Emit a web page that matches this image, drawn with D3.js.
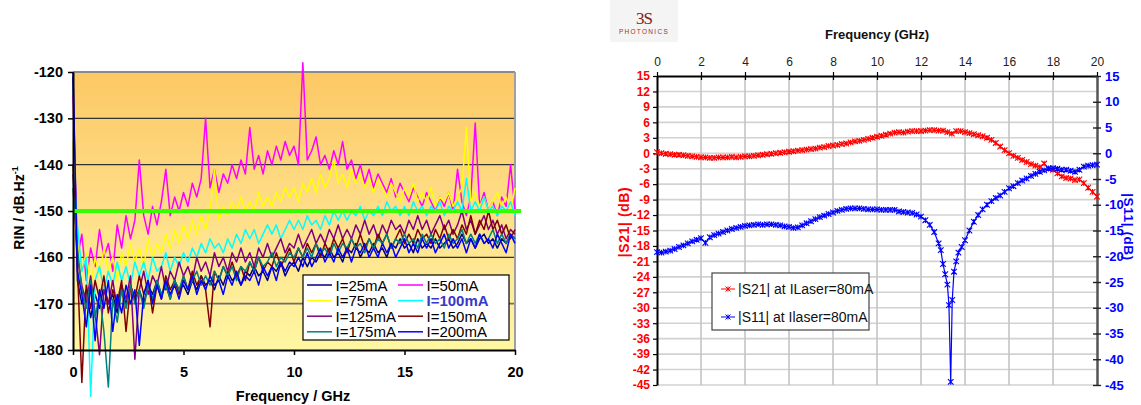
<!DOCTYPE html>
<html><head><meta charset="utf-8">
<script src="https://cdn.jsdelivr.net/npm/d3@7"></script>
<style>body{margin:0;background:#fff}svg{display:block;font-family:"Liberation Sans",Arial,sans-serif}</style>
</head><body><svg id="c" width="1141" height="405"></svg>
<script>
// ---------------- LEFT CHART DATA (RIN, dB/Hz, sampled every 0.2 GHz from 0 to 20 GHz) ----------------
const rinLabels = ["I=25mA","I=50mA","I=75mA","I=100mA","I=125mA","I=150mA","I=175mA","I=200mA"];
const rinXTicks = [0,5,10,15,20];
const rinYTicks = [-180,-170,-160,-150,-140,-130,-120];
const rinRef = -150;
const rin25 = [-121,
-165,-170,-167,-173,-168,-171,-166,-170,-168,-172,
-167,-170,-166,-169,-167,-170,-166,-168,-165,-168,
-166,-169,-165,-167,-166,-168,-165,-167,-164,-166,
-165,-167,-164,-166,-163,-165,-164,-166,-163,-164,
-162,-164,-163,-165,-162,-163,-161,-164,-162,-161,
-163,-160,-162,-160,-161,-159,-160,-158,-160,-159,
-161,-158,-159,-157,-160,-158,-159,-157,-159,-158,
-160,-157,-158,-156,-158,-157,-159,-156,-158,-157,
-158,-156,-158,-157,-156,-158,-157,-155,-157,-156,
-158,-156,-155,-157,-156,-158,-156,-157,-155,-156];
const rin50 = [-125,
-160,-155,-165,-158,-162,-154,-160,-157,-163,-153,
-158,-151,-156,-152,-139,-151,-155,-149,-153,-148,
-141,-151,-147,-150,-146,-149,-144,-147,-143,-130,
-145,-141,-146,-142,-144,-140,-143,-139,-142,-132,
-141,-138,-142,-137,-140,-136,-139,-135,-138,-136,
-140,-118,-139,-137,-134,-140,-138,-141,-137,-140,
-135,-141,-139,-143,-140,-144,-141,-145,-142,-144,
-146,-143,-147,-144,-146,-148,-145,-147,-149,-146,
-148,-150,-147,-149,-146,-150,-141,-148,-151,-147,
-131,-149,-146,-150,-148,-151,-147,-149,-140,-150];
const rin75 = [-135,
-157,-163,-159,-166,-160,-164,-158,-163,-160,-165,
-159,-162,-157,-161,-158,-162,-156,-160,-157,-159,
-155,-158,-154,-157,-153,-156,-152,-155,-151,-154,
-150,-141,-152,-149,-151,-148,-150,-147,-150,-148,
-150,-146,-149,-147,-149,-146,-148,-145,-147,-145,
-148,-144,-146,-143,-146,-142,-145,-143,-139,-144,
-142,-145,-141,-144,-142,-145,-143,-146,-143,-145,
-147,-144,-146,-148,-145,-147,-144,-148,-146,-148,
-145,-149,-147,-148,-146,-149,-147,-145,-132,-148,
-146,-149,-147,-150,-148,-146,-149,-147,-150,-145];
const rin100 = [-140,
-153,-163,-160,-190,-165,-162,-167,-163,-166,-161,
-165,-162,-166,-161,-164,-161,-165,-160,-163,-162,
-159,-163,-160,-162,-159,-161,-158,-160,-157,-159,
-156,-158,-157,-159,-156,-158,-155,-157,-154,-156,
-154,-157,-155,-153,-155,-153,-156,-154,-152,-154,
-152,-154,-151,-153,-152,-154,-151,-153,-150,-152,
-150,-152,-150,-151,-149,-152,-150,-151,-149,-151,
-148,-150,-149,-151,-149,-151,-148,-150,-149,-151,
-149,-150,-148,-151,-149,-150,-148,-150,-143,-150,
-148,-150,-147,-150,-149,-151,-149,-150,-148,-151];
const rin125 = [-142,
-160,-166,-170,-164,-172,-181,-167,-170,-165,-171,
-166,-169,-164,-182,-167,-163,-168,-164,-166,-162,
-167,-163,-165,-161,-164,-162,-165,-160,-163,-161,
-164,-159,-162,-160,-163,-159,-161,-158,-161,-159,
-162,-158,-160,-157,-160,-158,-156,-159,-157,-158,
-155,-158,-156,-154,-157,-155,-157,-154,-156,-153,
-156,-154,-156,-153,-155,-152,-155,-153,-156,-153,
-155,-152,-154,-153,-155,-152,-154,-151,-154,-152,
-155,-153,-151,-154,-152,-155,-153,-150,-154,-152,
-155,-153,-151,-154,-152,-155,-153,-156,-154,-155];
const rin150 = [-140,
-162,-187,-166,-171,-165,-169,-164,-172,-167,-170,
-165,-176,-166,-169,-164,-168,-165,-172,-166,-169,
-164,-167,-165,-168,-164,-167,-163,-166,-164,-167,
-175,-163,-165,-162,-164,-161,-164,-162,-165,-161,
-163,-160,-163,-161,-162,-159,-162,-160,-158,-161,
-158,-160,-157,-159,-157,-160,-157,-159,-156,-158,
-156,-159,-156,-158,-155,-158,-156,-158,-155,-157,
-155,-158,-156,-154,-157,-155,-157,-154,-156,-155,
-157,-154,-156,-153,-156,-154,-156,-153,-155,-151,
-155,-152,-154,-150,-154,-152,-155,-153,-156,-154];
const rin175 = [-145,
-158,-167,-171,-165,-173,-168,-176,-188,-169,-174,
-167,-171,-166,-170,-167,-171,-166,-169,-165,-168,
-166,-169,-165,-167,-164,-167,-165,-163,-166,-164,
-166,-163,-165,-162,-164,-162,-165,-162,-163,-161,
-163,-160,-162,-161,-159,-162,-160,-161,-159,-160,
-158,-160,-158,-160,-157,-159,-158,-160,-157,-159,
-157,-158,-156,-158,-157,-159,-156,-158,-156,-157,
-155,-158,-156,-157,-155,-157,-156,-158,-155,-157,
-155,-157,-156,-158,-155,-157,-156,-154,-157,-155,
-157,-155,-157,-156,-154,-157,-155,-157,-155,-156];
const rin200 = [-120,
-163,-168,-175,-166,-178,-167,-171,-165,-176,-168,
-172,-166,-170,-167,-179,-168,-165,-170,-166,-169,
-165,-168,-166,-169,-165,-167,-164,-168,-165,-167,
-164,-166,-165,-168,-164,-166,-163,-166,-164,-165,
-163,-166,-162,-164,-162,-165,-161,-163,-161,-162,
-160,-162,-159,-162,-160,-158,-161,-159,-161,-158,
-160,-158,-161,-158,-159,-157,-160,-158,-160,-157,
-159,-157,-160,-158,-156,-159,-157,-159,-156,-158,
-156,-159,-157,-155,-158,-156,-158,-156,-159,-156,
-158,-155,-157,-156,-158,-155,-157,-159,-155,-157];
const rinSeries = [rin25, rin50, rin75, rin100, rin125, rin150, rin175, rin200];

// ---------------- RIGHT CHART DATA (S-parameters) ----------------
const sXTicks = [0,2,4,6,8,10,12,14,16,18,20];
const s21Ticks = [15,12,9,6,3,0,-3,-6,-9,-12,-15,-18,-21,-24,-27,-30,-33,-36,-39,-42,-45];
const s11Ticks = [15,10,5,0,-5,-10,-15,-20,-25,-30,-35,-40,-45];
const s21Db = [0.2,
0.0,-0.1,-0.2,-0.3,-0.3,-0.4,-0.5,-0.6,-0.7,-0.8,
-0.8,-0.9,-0.9,-0.8,-0.8,-0.8,-0.7,-0.8,-0.7,-0.6,
-0.6,-0.5,-0.4,-0.3,-0.2,-0.1,0.0,0.1,0.2,0.3,
0.4,0.5,0.6,0.7,0.8,0.9,1.1,1.2,1.4,1.5,
1.6,1.8,1.9,2.1,2.3,2.4,2.6,2.8,3.0,3.2,
3.4,3.6,3.8,4.0,4.1,4.0,4.2,4.3,4.3,4.3,
4.4,4.5,4.5,4.4,4.4,4.1,3.8,4.3,4.3,4.1,
3.9,3.7,3.5,3.3,3.0,2.6,2.0,1.3,0.6,0.0,
-0.5,-0.9,-1.3,-1.7,-2.1,-2.4,-2.7,-2.0,-2.9,-3.2,
-3.9,-4.5,-4.8,-4.9,-5.2,-5.1,-5.8,-6.7,-7.5,-8.4];
const s11Freq = [0,0.2,0.4,0.6,0.8,1,1.2,1.4,1.6,1.8,2,2.2,2.4,2.6,2.8,3,3.2,3.4,3.6,3.8,4,
4.2,4.4,4.6,4.8,5,5.2,5.4,5.6,5.8,6,6.2,6.4,6.6,6.8,7,7.2,7.4,7.6,7.8,8,
8.2,8.4,8.6,8.8,9,9.2,9.4,9.6,9.8,10,10.2,10.4,10.6,10.8,11,11.2,11.4,11.6,11.8,12,
12.2,12.4,12.6,12.8,12.9,13,13.1,13.2,13.27,13.35,13.42,13.5,13.6,13.7,13.85,
14,14.2,14.4,14.6,14.8,15,15.2,15.4,15.6,15.8,16,16.2,16.4,16.6,16.8,17,17.2,17.4,17.6,17.8,18,
18.2,18.4,18.6,18.8,19,19.2,19.4,19.6,19.8,20];
const s11Db = [-19.2,-19.3,-19.1,-18.9,-18.6,-18.2,-17.9,-17.5,-17.1,-16.8,-16.5,
-17.4,-16.3,-15.9,-15.6,-15.3,-15.0,-14.7,-14.5,-14.3,-14.1,
-14.0,-13.9,-13.8,-13.9,-13.8,-13.8,-13.9,-14.0,-14.2,-14.3,
-14.5,-14.4,-14.0,-13.6,-13.2,-12.8,-12.4,-12.1,-11.8,-11.5,
-11.2,-11.0,-10.8,-10.7,-10.7,-10.7,-10.8,-10.9,-10.9,-10.9,
-11.0,-11.0,-11.0,-11.0,-11.3,-11.4,-11.5,-11.6,-11.9,-12.3,
-13.0,-13.9,-15.3,-17.5,
-18.8,-21.5,-23.5,-25.5,-29.5,-44.4,-28.5,-23.0,-21.0,-19.3,-18.2,
-16.9,-15.0,-13.3,-12.0,-10.9,-10.0,-9.3,-8.7,-8.2,-7.5,-6.8,
-6.4,-5.8,-5.3,-4.9,-4.4,-4.0,-3.6,-3.3,-3.0,-2.9,
-3.0,-3.2,-3.2,-3.4,-3.6,-3.2,-2.6,-2.4,-2.3,-2.2];
const sLabels = ["|S21| at ILaser=80mA","|S11| at Ilaser=80mA"];

// ---------------- STYLES ----------------
const rinColors = ["#000080","#FF00FF","#FFFF00","#00FFFF","#800080","#800000","#008080","#0000FF"];
const FONT = '"Liberation Sans",Arial,sans-serif';

const svg = d3.select("#c");
const defs = svg.append("defs");
const grad = defs.append("linearGradient").attr("id","bg1").attr("x1",0).attr("y1",0).attr("x2",0).attr("y2",1);
grad.append("stop").attr("offset","0%").attr("stop-color","#FCC864");
grad.append("stop").attr("offset","50%").attr("stop-color","#FEDE88");
grad.append("stop").attr("offset","100%").attr("stop-color","#FFF7A2");

// ================= LEFT CHART =================
const xL = d3.scaleLinear().domain([0,20]).range([73,515]);
const yL = d3.scaleLinear().domain([-180,-120]).range([350,72]);
const rinFreq = d3.range(rin50.length).map(i => +(i*0.2).toFixed(1));

svg.append("rect").attr("x",xL(0)).attr("y",yL(-120)).attr("width",xL(20)-xL(0)).attr("height",yL(-180)-yL(-120)).attr("fill","url(#bg1)");
svg.append("g").selectAll("line").data(rinYTicks.filter(v=>v>-180&&v<-120)).join("line")
  .attr("x1",xL(0)).attr("x2",xL(20)).attr("y1",d=>yL(d)).attr("y2",d=>yL(d))
  .attr("stroke",d=>d===-170?"#6e6e6e":"#333").attr("stroke-width",d=>d===-170?1.8:1.2);
svg.append("line").attr("x1",xL(0)).attr("x2",xL(20)).attr("y1",yL(-120)).attr("y2",yL(-120)).attr("stroke","#8a8a8a").attr("stroke-width",2);
svg.append("line").attr("x1",xL(20)).attr("x2",xL(20)).attr("y1",yL(-120)).attr("y2",yL(-180)).attr("stroke","#a0a0a0").attr("stroke-width",2);

const rinLine = d3.line().x((d,i)=>xL(rinFreq[i])).y(d=>yL(d));
const gLines = svg.append("g");
rinSeries.forEach((s,k)=>{
  gLines.append("path").attr("d",rinLine(s)).attr("fill","none").attr("stroke",rinColors[k]).attr("stroke-width",1.5).attr("stroke-linejoin","round");
});
svg.append("line").attr("x1",xL(0)).attr("x2",xL(20)+6).attr("y1",yL(rinRef)).attr("y2",yL(rinRef)).attr("stroke","#33FF00").attr("stroke-width",4);

const axL = svg.append("g").attr("transform",`translate(${xL(0)},0)`)
  .call(d3.axisLeft(yL).tickValues(rinYTicks).tickSize(5).tickSizeOuter(0).tickPadding(5).tickFormat(d=>String(d)));
const axB = svg.append("g").attr("transform",`translate(0,${yL(-180)})`)
  .call(d3.axisBottom(xL).tickValues(rinXTicks).tickSize(5).tickSizeOuter(0).tickPadding(12).tickFormat(d=>String(d)));
[axL,axB].forEach(a=>{
  a.attr("font-family",FONT);
  a.select(".domain").attr("stroke","#000").attr("stroke-width",2);
  a.selectAll(".tick line").attr("stroke","#000").attr("stroke-width",1.5);
  a.selectAll(".tick text").attr("fill","#000").attr("font-size",14.5).attr("font-weight","bold");
});

const tY = svg.append("text").attr("transform","translate(24,208) rotate(-90)").attr("text-anchor","middle")
  .attr("font-family",FONT).attr("font-size",14).attr("font-weight","bold").attr("fill","#000");
tY.append("tspan").text("RIN / dB.Hz");
tY.append("tspan").attr("dy",-6).attr("font-size",9).text("-1");
svg.append("text").attr("x",293).attr("y",401).attr("text-anchor","middle").attr("font-family",FONT)
  .attr("font-size",14.5).attr("font-weight","bold").text("Frequency / GHz");

// legend
const lg = svg.append("g");
lg.append("rect").attr("x",303).attr("y",275).attr("width",206).attr("height",65).attr("fill","#fff").attr("stroke","#000").attr("stroke-width",1.2);
rinLabels.forEach((lab,i)=>{
  const col=i%2,row=Math.floor(i/2);
  const x0 = col?398:307, yy = 285+row*15.6;
  lg.append("line").attr("x1",x0).attr("x2",x0+25).attr("y1",yy).attr("y2",yy).attr("stroke",rinColors[i]).attr("stroke-width",1.5);
  lg.append("text").attr("x",x0+28.5).attr("y",yy+5.5).attr("font-family",FONT).attr("font-size",15)
    .attr("font-weight",i===3?"bold":"normal").attr("fill",i===3?"#3838C8":"#000").text(lab);
});

// ================= RIGHT CHART =================
const xR = d3.scaleLinear().domain([0,20]).range([657,1097]);
const yR1 = d3.scaleLinear().domain([-45,15]).range([385,76]);
const yR2 = d3.scaleLinear().domain([-45,15]).range([385,76]);

// logo
svg.append("rect").attr("x",610).attr("y",0).attr("width",68).attr("height",42).attr("fill","#f4f4f4");
svg.append("text").attr("x",644).attr("y",24).attr("text-anchor","middle").attr("font-family","'Liberation Serif',serif")
  .attr("font-size",17).attr("fill","#7a2222").attr("letter-spacing",-1).text("3S");
svg.append("text").attr("x",644).attr("y",34).attr("text-anchor","middle").attr("font-family",FONT)
  .attr("font-size",6.5).attr("fill","#a03030").attr("letter-spacing",1.3).text("PHOTONICS");

// grid
svg.append("g").selectAll("line").data(s21Ticks.filter(v=>v<15)).join("line")
  .attr("x1",xR(0)).attr("x2",xR(20)).attr("y1",d=>yR1(d)).attr("y2",d=>yR1(d)).attr("stroke","#d2d2d2").attr("stroke-width",1.6);
svg.append("g").selectAll("line").data(sXTicks.filter(v=>v>0&&v<20)).join("line")
  .attr("x1",d=>xR(d)).attr("x2",d=>xR(d)).attr("y1",yR1(15)).attr("y2",yR1(-45)).attr("stroke","#c4c4c4").attr("stroke-width",1.6);

const axT = svg.append("g").attr("transform",`translate(0,${yR1(15)})`)
  .call(d3.axisTop(xR).tickValues(sXTicks).tickSize(4).tickSizeOuter(0).tickPadding(6).tickFormat(d=>String(d)));
axT.attr("font-family",FONT);
axT.select(".domain").attr("stroke","#000").attr("stroke-width",2);
axT.selectAll(".tick line").attr("y2",-4).attr("y1",4).attr("stroke","#000").attr("stroke-width",1.2);
axT.selectAll(".tick text").attr("font-size",12).attr("fill","#222");

const axR1 = svg.append("g").attr("transform",`translate(${xR(0)},0)`)
  .call(d3.axisLeft(yR1).tickValues(s21Ticks).tickSize(4).tickSizeOuter(0).tickPadding(3).tickFormat(d=>String(d)));
axR1.attr("font-family",FONT);
axR1.select(".domain").attr("stroke","#000").attr("stroke-width",2);
axR1.selectAll(".tick line").attr("stroke","#000").attr("stroke-width",1.2);
axR1.selectAll(".tick text").attr("font-size",12).attr("font-weight","bold").attr("fill","#FF0000");

const axR2 = svg.append("g").attr("transform",`translate(${xR(20)},0)`)
  .call(d3.axisRight(yR2).tickValues(s11Ticks).tickSize(4).tickSizeOuter(0).tickPadding(4).tickFormat(d=>String(d)));
axR2.attr("font-family",FONT);
axR2.select(".domain").attr("stroke","#555").attr("stroke-width",2.5);
axR2.selectAll(".tick line").attr("x1",-4).attr("x2",4).attr("stroke","#222").attr("stroke-width",1.4);
axR2.selectAll(".tick text").attr("font-size",13).attr("font-weight","bold").attr("fill","#0000FF");

svg.append("text").attr("x",877).attr("y",39).attr("text-anchor","middle").attr("font-family",FONT)
  .attr("font-size",13).attr("font-weight","bold").attr("fill","#111").text("Frequency (GHz)");
svg.append("text").attr("transform","translate(629,222) rotate(-90)").attr("text-anchor","middle").attr("font-family",FONT)
  .attr("font-size",14).attr("font-weight","bold").attr("fill","#FF0000").attr("letter-spacing",0.6).text("|S21| (dB)");
svg.append("text").attr("transform","translate(1124,227) rotate(90)").attr("text-anchor","middle").attr("font-family",FONT)
  .attr("font-size",13.5).attr("font-weight","bold").attr("fill","#0000FF").attr("letter-spacing",0.6).text("|S11| (dB)");

const star = r => `M${-r},${-r}L${r},${r}M${-r},${r}L${r},${-r}M0,${-r}L0,${r}`;
const s21Freq = d3.range(s21Db.length).map(i => +(i*0.2).toFixed(1));
function drawS(freqs, vals, yS, color){
  const g = svg.append("g");
  g.append("path").attr("d",d3.line().x((d,i)=>xR(freqs[i])).y(d=>yS(d))(vals)).attr("fill","none").attr("stroke",color).attr("stroke-width",1.2);
  g.selectAll("path.m").data(vals).join("path").attr("class","m")
    .attr("transform",(d,i)=>`translate(${xR(freqs[i])},${yS(d)})`).attr("d",star(2.8))
    .attr("stroke",color).attr("stroke-width",1.1).attr("fill","none");
}
drawS(s21Freq, s21Db, yR1, "#FF0000");
drawS(s11Freq, s11Db, yR2, "#0000FF");

// legend
const lg2 = svg.append("g");
lg2.append("rect").attr("x",712).attr("y",273).attr("width",157).attr("height",57).attr("fill","#fff").attr("stroke","#444").attr("stroke-width",1.2);
[["#FF0000",289],["#0000FF",317]].forEach(([c,yy],i)=>{
  lg2.append("line").attr("x1",721).attr("x2",735).attr("y1",yy).attr("y2",yy).attr("stroke",c).attr("stroke-width",1);
  lg2.append("path").attr("transform",`translate(728,${yy})`).attr("d",star(2.5)).attr("stroke",c).attr("fill","none");
  lg2.append("text").attr("x",738).attr("y",yy+5).attr("font-family",FONT).attr("font-size",14).attr("fill","#111").text(sLabels[i]);
});
</script></body></html>
